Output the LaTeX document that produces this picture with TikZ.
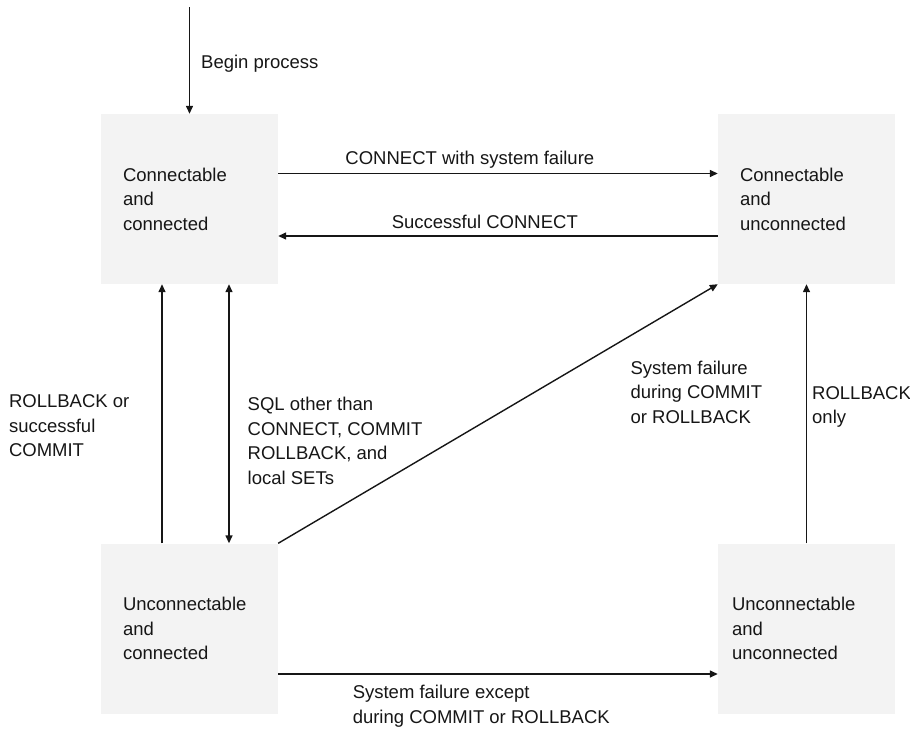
\documentclass[tikz,border=0pt]{standalone}
\usepackage{fontspec}
\setmainfont{Liberation Sans}
\usetikzlibrary{arrows.meta}
\definecolor{boxgray}{RGB}{243,243,243}
\definecolor{inkgray}{RGB}{22,22,22}
\begin{document}
\begin{tikzpicture}[x=1pt, y=-1pt, inkgray,
  state/.style={fill=boxgray, minimum width=177pt, minimum height=170pt, text width=133pt, inner xsep=22pt, align=left, font=\fontsize{18.5}{24.5}\selectfont},
  lbl/.style={inner sep=0pt, align=left, font=\fontsize{18.5}{24.5}\selectfont},
  flow/.style={line width=1.4pt, -{Triangle[length=8pt, width=7pt]}},
  flowboth/.style={line width=1.4pt, {Triangle[length=8pt, width=7pt]}-{Triangle[length=8pt, width=7pt]}}]
\useasboundingbox (0,0) rectangle (910,728);
\node[state] (cc) at (189.5,199){Connectable\\and\\connected};
\node[state] (cu) at (806.5,199){Connectable\\and\\unconnected};
\node[state] (uc) at (189.5,628.5){Unconnectable\\and\\connected};
\node[state, text width=149pt, inner xsep=14pt] (uu) at (806.5,628.5){Unconnectable\\and\\unconnected};
\coordinate (start) at (189.5,7);
\draw[flow](start) -- (cc) node[lbl, midway, right=11pt, yshift=-3pt]{Begin process};
\draw[flow]([yshift=25.5pt]cc.east) -- ([yshift=25.5pt]cu.west) node[lbl, pos=0.436, yshift=14pt]{CONNECT with system failure};
\draw[flow]([yshift=-37pt]cu.west) -- ([yshift=-37pt]cc.east) node[lbl, pos=0.53, yshift=14pt]{Successful CONNECT};
\draw[flow]([xshift=-27.5pt]uc.north) -- ([xshift=-27.5pt]cc.south) node[lbl, midway, left=32pt, yshift=-12pt]{ROLLBACK or\\successful\\COMMIT};
\draw[flowboth]([xshift=39.5pt]cc.south) -- ([xshift=39.5pt]uc.north) node[lbl, midway, right=18pt, yshift=-27pt]{SQL other than\\CONNECT, COMMIT\\ROLLBACK, and\\local SETs};
\draw[flow](uc.north east) -- (cu.south west) node[lbl, pos=0.8, anchor=west, yshift=-56pt]{System failure\\during COMMIT\\or ROLLBACK};
\draw[flow](uu) -- (cu) node[lbl, midway, right=5pt, yshift=7pt]{ROLLBACK\\only};
\draw[flow]([yshift=-45.5pt]uc.east) -- ([yshift=-45.5pt]uu.west) node[lbl, pos=0.168, anchor=west, yshift=-32pt]{System failure except\\during COMMIT or ROLLBACK};
\end{tikzpicture}
\end{document}
